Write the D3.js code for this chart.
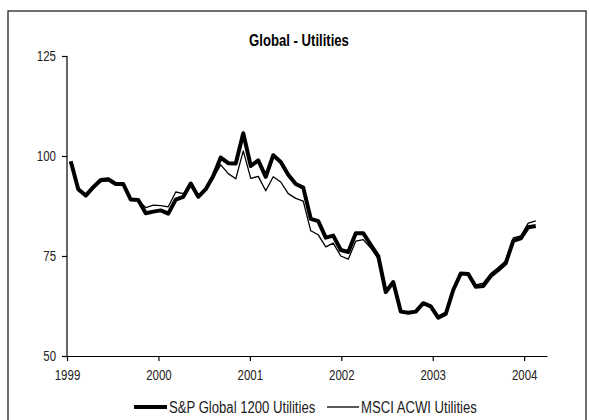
<!DOCTYPE html>
<html>
<head>
<meta charset="utf-8">
<script src="https://cdn.jsdelivr.net/npm/d3@7/dist/d3.min.js"></script>
<style>
  body { margin: 0; background: #fff; }
  svg { display: block; font-family: "Liberation Sans", Arial, sans-serif; }
</style>
</head>
<body>
<script>
(function(){

//series values, one per month from Jan 1999 to Mar 2004
var spValues = [98.7, 91.7, 90.1, 92.2, 94.0, 94.2, 93.0, 93.0, 89.1, 89.0,
                85.7, 86.1, 86.4, 85.6, 89.1, 89.8, 93.1, 89.8, 91.7, 95.0,
                99.6, 98.2, 98.1, 105.7, 97.5, 98.9, 94.8, 100.2, 98.5, 95.3,
                93.0, 92.1, 84.3, 83.7, 79.6, 80.1, 76.5, 76.0, 80.7, 80.7,
                77.8, 75.0, 66.0, 68.5, 61.1, 60.8, 61.1, 63.2, 62.4, 59.6,
                60.5, 66.5, 70.6, 70.5, 67.3, 67.5, 70.0, 71.5, 73.2, 78.8,
                79.4, 82.2, 82.5];

var msciValues = [98.5, 91.5, 90.0, 92.0, 93.6, 93.8, 92.8, 92.8, 89.0, 89.0,
                  87.1, 87.7, 87.6, 87.3, 91.0, 90.6, 92.8, 90.2, 91.5, 94.6,
                  97.8, 95.6, 94.3, 101.3, 94.4, 94.9, 91.3, 94.8, 93.5, 90.6,
                  89.4, 88.7, 81.3, 80.3, 77.3, 78.2, 75.0, 74.2, 78.7, 79.1,
                  77.0, 74.3, 65.7, 68.4, 61.0, 60.9, 61.2, 63.3, 62.6, 60.0,
                  61.0, 66.6, 70.6, 70.4, 67.8, 68.2, 70.6, 72.1, 73.8, 79.5,
                  80.0, 83.2, 83.8];

var seriesNames = ["S&P Global 1200 Utilities", "MSCI ACWI Utilities"];
var yearLabels = ["1999", "2000", "2001", "2002", "2003", "2004"];
var yTicks = [50, 75, 100, 125];

var chartTitle = "Global - Utilities";

//horizontal squeeze to mimic the narrow face of the original
var narrowX = 0.82;

window.onload = setChart();

function setChart(){

    var width = 589,
        height = 420;

    var svg = d3.select("body")
        .append("svg")
        .attr("width", width)
        .attr("height", height);

    //outer frame of the chart
    svg.append("rect")
        .attr("x", 8)
        .attr("y", 11)
        .attr("width", 578)
        .attr("height", 430)
        .attr("fill", "#fff")
        .attr("stroke", "#222")
        .attr("stroke-width", 1.3);

    //one band per month, points sit in the middle of each band
    var months = d3.range(64);
    var x = d3.scaleBand()
        .domain(months)
        .range([67, 547])
        .padding(0);

    var y = d3.scaleLinear()
        .domain([50, 125])
        .range([356, 56]);

    //title
    svg.append("text")
        .attr("x", 299)
        .attr("y", 46)
        .attr("text-anchor", "middle")
        .style("font-size", "16px")
        .style("font-weight", "bold")
        .text(chartTitle)
        .call(squeeze);

    //y axis
    var yAxis = svg.append("g")
        .attr("transform", "translate(67,0)")
        .call(d3.axisLeft(y).tickValues(yTicks).tickSize(5).tickPadding(6));

    //x axis, a tick at the start of every year
    var xAxis = svg.append("g")
        .attr("transform", "translate(0,356)")
        .call(d3.axisBottom(d3.scaleLinear().domain([0, 63]).range([67, 547]))
            .tickValues(yearLabels.map(function(d, i){ return i * 12; }))
            .tickFormat(function(d){ return yearLabels[d / 12]; })
            .tickSize(5)
            .tickPadding(9)
            .tickSizeOuter(0));

    [yAxis, xAxis].forEach(function(ax){
        ax.select(".domain").attr("stroke", "#000").attr("stroke-width", 1.2);
        ax.selectAll(".tick line").attr("stroke", "#000").attr("stroke-width", 1.2);
        ax.selectAll(".tick text")
            .attr("fill", "#222")
            .style("font-size", "14px")
            .style("font-family", null)
            .call(squeeze);
    });
    yAxis.select(".domain").attr("d", "M0,356V56");

    var line = d3.line()
        .x(function(d, i){ return x(i) + x.bandwidth() / 2; })
        .y(function(d){ return y(d); });

    //thick series first, thin one on top
    svg.append("path")
        .datum(spValues)
        .attr("fill", "none")
        .attr("stroke", "#000")
        .attr("stroke-width", 4)
        .attr("stroke-linejoin", "round")
        .attr("d", line);

    svg.append("path")
        .datum(msciValues)
        .attr("fill", "none")
        .attr("stroke", "#000")
        .attr("stroke-width", 1.3)
        .attr("stroke-linejoin", "round")
        .attr("d", line);

    setLegend(svg);
};

//squeeze text horizontally around its own x position
function squeeze(sel){
    sel.attr("transform", function(){
        var x0 = +d3.select(this).attr("x") || 0;
        return "translate(" + x0 + ",0) scale(" + narrowX + ",1) translate(" + (-x0) + ",0)";
    });
};

function setLegend(svg){

    var items = [
        {name: seriesNames[0], x1: 134, x2: 167, w: 4},
        {name: seriesNames[1], x1: 327, x2: 359, w: 1.3}
    ];

    var legend = svg.selectAll(".legendItem")
        .data(items)
        .enter()
        .append("g")
        .attr("class", "legendItem");

    legend.append("line")
        .attr("x1", function(d){ return d.x1; })
        .attr("x2", function(d){ return d.x2; })
        .attr("y1", 407)
        .attr("y2", 407)
        .attr("stroke", "#000")
        .attr("stroke-width", function(d){ return d.w; });

    legend.append("text")
        .attr("x", function(d){ return d.x2 + 2; })
        .attr("y", 413)
        .attr("fill", "#222")
        .style("font-size", "16px")
        .text(function(d){ return d.name; })
        .call(squeeze);
};

})();
</script>
</body>
</html>
